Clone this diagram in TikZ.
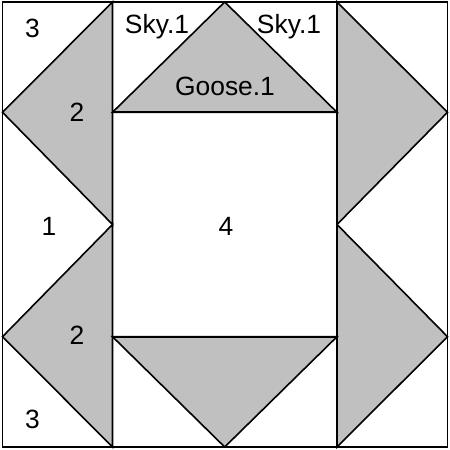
\documentclass[tikz,border=0pt]{standalone}
\usepackage{fontspec}
\setmainfont{Liberation Sans}
\definecolor{goosegray}{RGB}{192,192,192}
\begin{document}
\begin{tikzpicture}[x=1bp,y=-1bp,
  seam/.style={draw=black,line width=1.6bp,line join=miter},
  goose/.style={fill=goosegray,draw=black,line width=1.6bp,line join=miter},
  lbl/.style={anchor=base,inner sep=0pt,font=\fontsize{26.5}{30}\selectfont}]
\useasboundingbox (0,0) rectangle (450,450);
\fill[white] (0,0) rectangle (450,450);
% coordinates
\coordinate (tl) at (2.5,2);
\coordinate (br) at (447.5,447);
% left geese
\path[goose] (112.5,2) -- (2.5,112.3) -- (112.5,224.5) -- cycle;
\path[goose] (112.5,224.5) -- (2.5,336.7) -- (112.5,447) -- cycle;
% right geese
\path[goose] (337,2) -- (447.5,112.3) -- (337,224.5) -- cycle;
\path[goose] (337,224.5) -- (447.5,336.7) -- (337,447) -- cycle;
% top goose
\path[goose] (112.5,112.3) -- (224.7,2) -- (337,112.3) -- cycle;
% bottom goose
\path[goose] (112.5,336.7) -- (337,336.7) -- (224.7,447) -- cycle;
% seams
\draw[seam] (tl) rectangle (br);
\draw[seam] (112.5,2) -- (112.5,447);
\draw[seam] (337,2) -- (337,447);
\draw[seam] (112.5,112.3) -- (337,112.3);
\draw[seam] (112.5,336.7) -- (337,336.7);
% labels
\node[lbl] (t3) at (32.5,38) {3};
\node[lbl] (t2) at (77,122) {2};
\node[lbl] (m1) at (49,235.5) {1};
\node[lbl] (b2) at (77,344) {2};
\node[lbl] (b3) at (32.5,428) {3};
\node[lbl] (sky1) at (157,34) {Sky.1};
\node[lbl] (sky2) at (289,34) {Sky.1};
\node[lbl] (goose) at (225,96) {Goose.1};
\node[lbl] (c4) at (226,235.5) {4};
\end{tikzpicture}
\end{document}
